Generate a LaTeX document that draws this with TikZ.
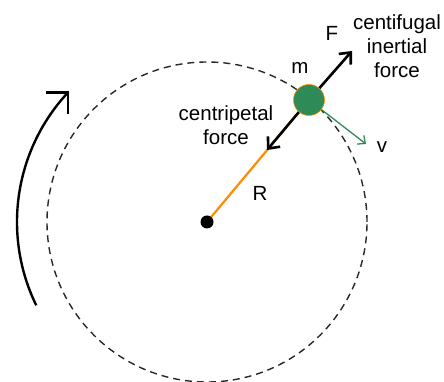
\documentclass[tikz,border=0pt]{standalone}
\usepackage{fontspec}
\setmainfont{Liberation Sans}
\usetikzlibrary{arrows.meta,calc}
\definecolor{massgreen}{RGB}{46,139,87}
\definecolor{radorange}{RGB}{255,140,0}
\definecolor{dashgray}{RGB}{40,40,40}
\begin{document}
\begin{tikzpicture}[x=1pt,y=1pt,
  lbl/.style={font=\fontsize{20.5}{24}\selectfont, inner sep=0pt, align=center},
  force/.style={line width=2.6pt, -{Straight Barb[length=9pt,width=16pt,line width=2.6pt]}},
  vel/.style={massgreen, line width=1.3pt, -{Straight Barb[length=6pt,width=11pt]}}]
\useasboundingbox (0,0) rectangle (444,382);
\coordinate (C) at (207,160);
\draw[dashgray, line width=1.4pt, dash pattern=on 7pt off 5pt] (C) circle[radius=160];
% rotation arrow
\coordinate (A0) at ($(C)+(206:190)$);
\draw[line width=2.4pt] (A0) arc[start angle=206, end angle=137, radius=190] coordinate (Atip);
\draw[line width=2.4pt] ($(Atip)+(-22,0)$) -- (Atip) -- ($(Atip)+(0,-22)$);
% radius
\coordinate (M) at (309,282);
\draw[radorange, line width=2.2pt] (C) -- (M);
\coordinate (Fin) at (267,232);
\coordinate (Fout) at (352,331);
\coordinate (Vend) at (366,238);
\draw[force] (M) -- (Fin);
\draw[force] (M) -- (Fout);
\draw[vel] (M) -- (Vend);
\fill[black] (C) circle[radius=6.5];
\node[circle, fill=massgreen, draw=radorange, line width=0.6pt, minimum size=31pt, inner sep=0pt] (mass) at (M) {};
\node[lbl] (F) at (332,349) {F};
\node[lbl] (m) at (300,314) {m};
\node[lbl] (cf) at (397,336) {centifugal\\inertial\\force};
\node[lbl] (v) at (382,235) {v};
\node[lbl] (cp) at (226,257) {centripetal\\force};
\node[lbl] (R) at (260,189) {R};
\end{tikzpicture}
\end{document}
